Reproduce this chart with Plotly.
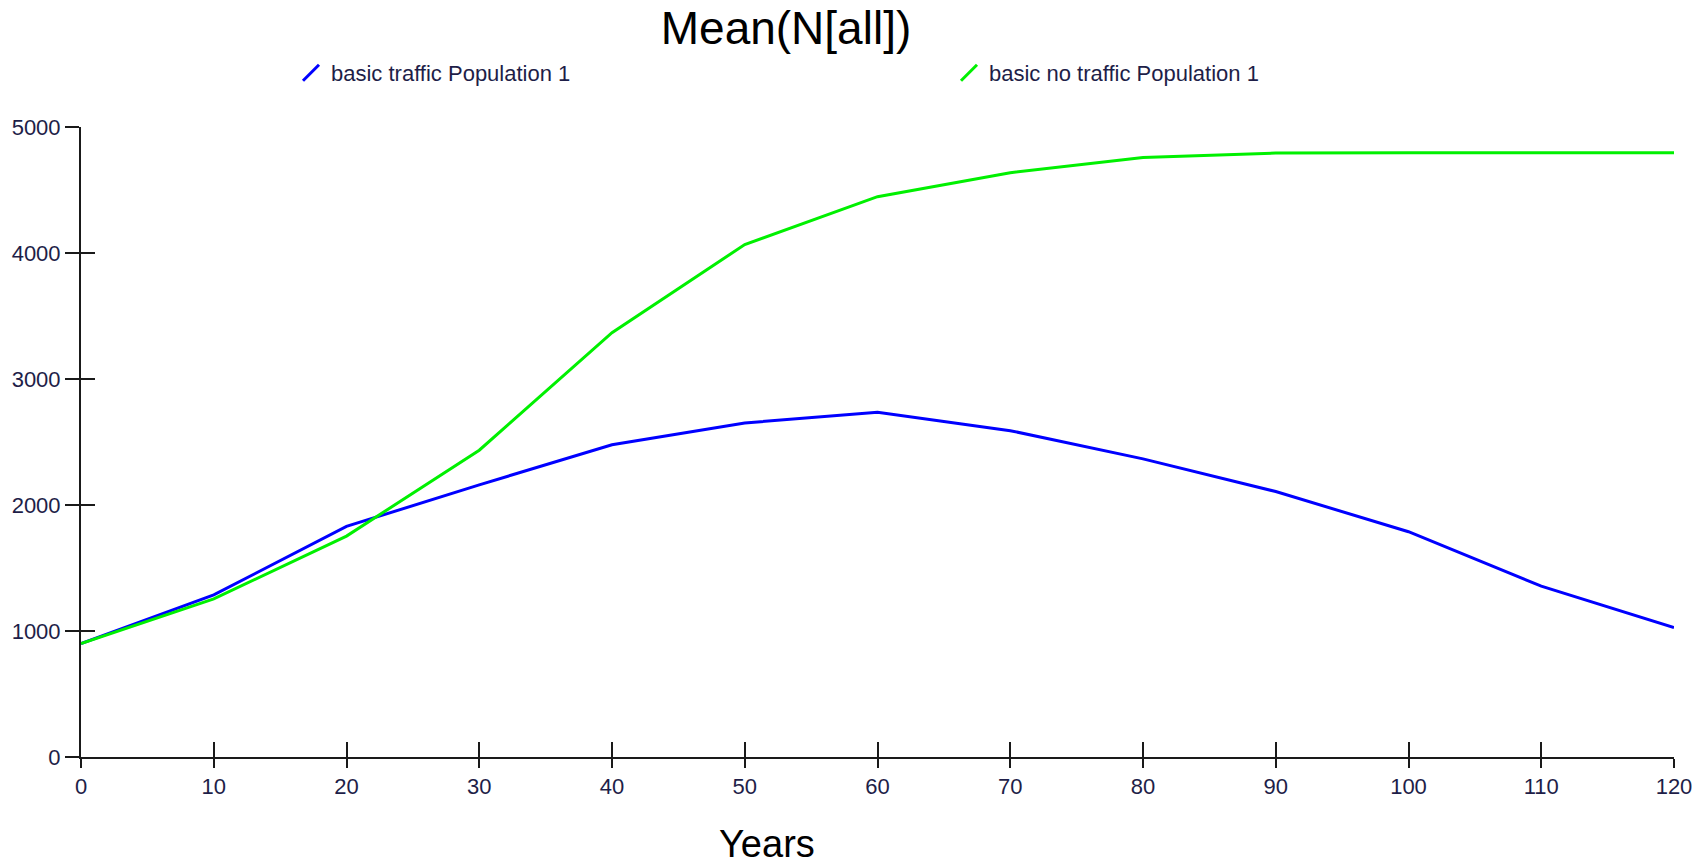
import plotly.graph_objects as go

years = [0, 10, 20, 30, 40, 50, 60, 70, 80, 90, 100, 110, 120]
traffic = [900, 1287, 1830, 2160, 2478, 2651, 2737, 2590, 2366, 2107, 1788, 1356, 1028]
no_traffic = [900, 1255, 1753, 2435, 3368, 4067, 4447, 4637, 4758, 4793, 4795, 4795, 4795]

names = ["basic traffic Population 1", "basic no traffic Population 1"]
colors = ["#0000ff", "#00f000"]

x_ticks = list(range(0, 121, 10))
y_ticks = [0, 1000, 2000, 3000, 4000, 5000]

FONT = "Liberation Sans, Arial, sans-serif"
TXT = "#1e1e48"

fig = go.Figure()
for ys, c in zip([traffic, no_traffic], colors):
    fig.add_trace(go.Scatter(x=years, y=ys, mode="lines", line=dict(color=c, width=3),
                             showlegend=False, hoverinfo="skip"))
# legend entries with slanted line icons
for n, c in zip(names, colors):
    fig.add_trace(go.Scatter(x=[None], y=[None], mode="markers", name=n,
                             marker=dict(symbol="line-ne", size=16, color=c,
                                         line=dict(color=c, width=3))))
# overlay axes to draw the inner half of the crossing ticks
fig.add_trace(go.Scatter(x=[None], y=[None], xaxis="x2", yaxis="y2", showlegend=False,
                         hoverinfo="skip"))

axis_common = dict(showgrid=False, zeroline=False, showline=True, linecolor="#1a1a1a",
                   linewidth=2, tickcolor="#1a1a1a", tickwidth=2, automargin=False,
                   tickfont=dict(family=FONT, size=22, color=TXT))

L, R, T, B = 73, 40, 119, 113
plot_w = 1706 - L - R
plot_h = 862 - T - B

fig.update_layout(
    width=1706, height=862,
    paper_bgcolor="white", plot_bgcolor="white",
    margin=dict(l=L, r=R, t=T, b=B, autoexpand=False),
    title=dict(text="Mean(N[all])", font=dict(family=FONT, size=46, color="black"),
               x=778 / 1706, xref="container", xanchor="center",
               y=1 - 4 / 862, yref="container", yanchor="top"),
    xaxis=dict(range=[0, 120], tickmode="array", tickvals=x_ticks, ticks="outside",
               ticklen=9, **axis_common),
    yaxis=dict(range=[0, 5000], tickmode="array", tickvals=y_ticks, ticks="outside",
               ticklen=14, **axis_common),
    xaxis2=dict(range=[0, 120], overlaying="x", anchor="y2", side="bottom",
                tickmode="array", tickvals=x_ticks, ticks="inside", showticklabels=False,
                showgrid=False, zeroline=False, showline=False, tickcolor="#1a1a1a",
                tickwidth=2, ticklen=15, automargin=False),
    yaxis2=dict(range=[0, 5000], overlaying="y", anchor="x2", side="left",
                tickmode="array", tickvals=y_ticks, ticks="inside", showticklabels=False,
                showgrid=False, zeroline=False, showline=False, tickcolor="#1a1a1a",
                tickwidth=2, ticklen=14, automargin=False),
    legend=dict(orientation="h", xref="container", x=283 / 1706, xanchor="left",
                yref="container", y=1 - 65 / 862, yanchor="middle",
                font=dict(family=FONT, size=22, color=TXT),
                entrywidth=613, bgcolor="rgba(0,0,0,0)", borderwidth=0),
    annotations=[dict(text="Years", xref="paper", yref="paper",
                      x=(759 - L) / plot_w, y=-(836 - (862 - B)) / plot_h,
                      xanchor="center", yanchor="middle", showarrow=False,
                      font=dict(family=FONT, size=38, color="black"))],
    hovermode=False,
)

fig.write_html("out.html")
